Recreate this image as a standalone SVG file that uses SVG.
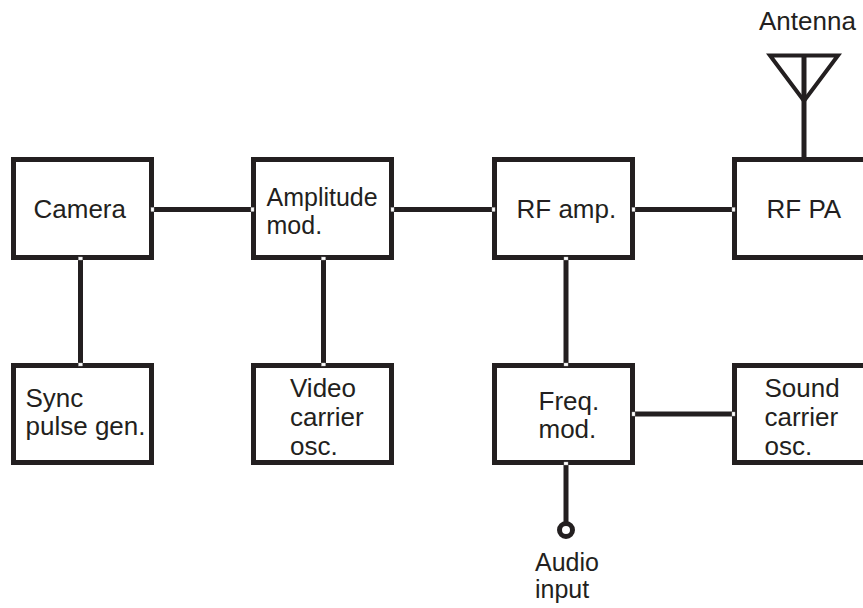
<svg xmlns="http://www.w3.org/2000/svg" width="863" height="608" viewBox="0 0 863 608">
<style>
.box{fill:#fff;stroke:#231f20;stroke-width:5}
.ln{stroke:#231f20;stroke-width:5;fill:none}
.notch{fill:#fff;stroke:#b0b0b0;stroke-width:0.4}
text{font-family:"Liberation Sans",Arial,Helvetica,sans-serif;font-size:26px;fill:#231f20}
.t2{font-size:25px}
</style>
<rect width="863" height="608" fill="#fff"/>
<g id="connectors">
<line class="ln" x1="154" y1="209.5" x2="251" y2="209.5"/>
<line class="ln" x1="394" y1="209.5" x2="492" y2="209.5"/>
<line class="ln" x1="635" y1="209.5" x2="732" y2="209.5"/>
<line class="ln" x1="80.5" y1="260" x2="80.5" y2="363"/>
<line class="ln" x1="323.5" y1="260" x2="323.5" y2="363"/>
<line class="ln" x1="566" y1="260" x2="566" y2="363"/>
<line class="ln" x1="635" y1="414" x2="732" y2="414"/>
<line class="ln" x1="566" y1="465" x2="566" y2="522"/>
<line class="ln" x1="804" y1="55" x2="804" y2="159"/>
</g>
<g id="camera"><rect class="box" x="13.5" y="159.5" width="138" height="98"/><text x="33.5" y="218">Camera</text></g>
<g id="amplitude-mod"><rect class="box" x="253.5" y="159.5" width="138" height="98"/><text class="t2" x="266.5" y="206">Amplitude</text><text class="t2" x="266.5" y="233.5">mod.</text></g>
<g id="rf-amp"><rect class="box" x="494.5" y="159.5" width="138" height="98"/><text x="516.5" y="218">RF amp.</text></g>
<g id="rf-pa"><rect class="box" x="734.5" y="159.5" width="150" height="98"/><text x="766.5" y="218">RF PA</text></g>
<g id="sync-pulse-gen"><rect class="box" x="13.5" y="365.5" width="138" height="97"/><text x="25.5" y="407">Sync</text><text x="25.5" y="435">pulse gen.</text></g>
<g id="video-carrier-osc"><rect class="box" x="253.5" y="365.5" width="138" height="97"/><text x="290" y="397">Video</text><text x="290" y="426">carrier</text><text x="290" y="455">osc.</text></g>
<g id="freq-mod"><rect class="box" x="494.5" y="365.5" width="138" height="97"/><text x="538.5" y="410">Freq.</text><text x="538.5" y="438">mod.</text></g>
<g id="sound-carrier-osc"><rect class="box" x="734.5" y="365.5" width="150" height="97"/><text x="764.5" y="397">Sound</text><text x="764.5" y="426">carrier</text><text x="764.5" y="455">osc.</text></g>
<g id="antenna">
<polygon points="770,55.5 838,55.5 804,101" fill="none" stroke="#231f20" stroke-width="4"/>
<text x="759" y="30">Antenna</text>
</g>
<g id="audio-input">
<circle cx="566" cy="530" r="6.5" fill="#fff" stroke="#231f20" stroke-width="5"/>
<text class="t2" x="535" y="571">Audio</text><text class="t2" x="535" y="597.5">input</text>
</g>
<g id="notches">
<rect class="notch" x="151" y="207.5" width="3" height="4"/>
<rect class="notch" x="251" y="207.5" width="3" height="4"/>
<rect class="notch" x="391" y="207.5" width="3" height="4"/>
<rect class="notch" x="492" y="207.5" width="3" height="4"/>
<rect class="notch" x="632" y="207.5" width="3" height="4"/>
<rect class="notch" x="732" y="207.5" width="3" height="4"/>
<rect class="notch" x="78.5" y="257" width="4" height="3"/>
<rect class="notch" x="78.5" y="363" width="4" height="3"/>
<rect class="notch" x="321.5" y="257" width="4" height="3"/>
<rect class="notch" x="321.5" y="363" width="4" height="3"/>
<rect class="notch" x="564" y="257" width="4" height="3"/>
<rect class="notch" x="564" y="363" width="4" height="3"/>
<rect class="notch" x="632" y="412" width="3" height="4"/>
<rect class="notch" x="732" y="412" width="3" height="4"/>
<rect class="notch" x="564" y="462" width="4" height="3"/>
</g>
</svg>
